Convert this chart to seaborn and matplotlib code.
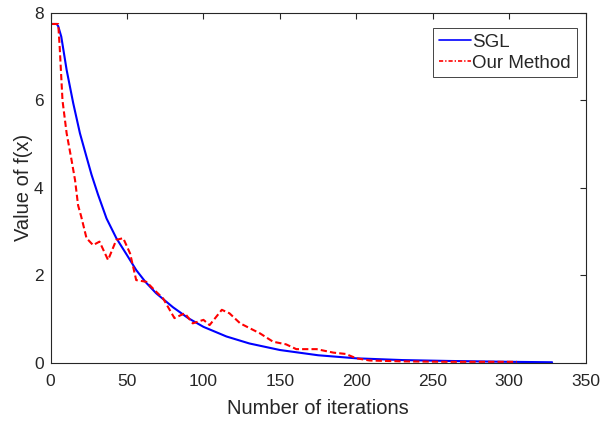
import numpy as np
import pandas as pd
import matplotlib
matplotlib.use('Agg')
import matplotlib.pyplot as plt
from matplotlib.lines import Line2D
import seaborn as sns

# values
sgl_iter = [1, 4, 5, 7, 10.5, 14.8, 19.2, 23.5, 26.8, 31, 36.6, 43, 50, 56, 62, 69,
            80, 90, 100, 115, 130, 150, 175, 200, 230, 260, 300, 328]
sgl_val = [7.75, 7.75, 7.7, 7.46, 6.7, 5.94, 5.25, 4.71, 4.3, 3.85, 3.3, 2.85, 2.46, 2.12,
           1.85, 1.59, 1.27, 1.02, 0.82, 0.6, 0.44, 0.29, 0.17, 0.1, 0.06, 0.04, 0.02, 0.01]

our_iter = [1, 5, 6, 7.8, 10.5, 13.7, 16, 18, 20, 23.5, 27.8, 32, 37.6, 43, 47.5, 52, 56,
            62.7, 68, 73.6, 81, 87.8, 93, 100, 104, 112, 117, 124, 137, 145.5, 154, 160.7,
            174, 185, 193, 200, 208.7, 230, 260, 305]
our_val = [7.75, 7.75, 7.2, 6.0, 5.25, 4.64, 4.18, 3.6, 3.35, 2.85, 2.69, 2.77, 2.35, 2.81,
           2.85, 2.5, 1.89, 1.85, 1.66, 1.47, 1.02, 1.13, 0.9, 0.98, 0.86, 1.21, 1.13, 0.9,
           0.67, 0.48, 0.42, 0.31, 0.31, 0.23, 0.2, 0.1, 0.05, 0.03, 0.02, 0.02]

sgl = pd.DataFrame({'iter': sgl_iter, 'f': sgl_val})
ours = pd.DataFrame({'iter': our_iter, 'f': our_val})

sns.set_style('white')
plt.rcParams['font.family'] = ['Liberation Sans', 'DejaVu Sans']

fig = plt.figure(figsize=(6.02, 4.21), dpi=100)
ax = fig.add_axes([0.084, 0.1385, 0.889, 0.8305])

sns.lineplot(data=sgl, x='iter', y='f', ax=ax, color='#0000ff', linewidth=1.5)
sns.lineplot(data=ours, x='iter', y='f', ax=ax, color='#ff0000', linewidth=1.5)
ax.lines[1].set_dashes([3, 1.5])

ax.set_xlim(0, 350)
ax.set_ylim(0, 8)
ax.set_xticks(np.arange(0, 351, 50))
ax.set_yticks(np.arange(0, 9, 2))
ax.tick_params(direction='in', top=True, right=True, length=4, width=0.8,
               labelsize=12.5, colors='0.15')
ax.tick_params(axis='x', pad=8)
ax.tick_params(axis='y', pad=5)
for s in ax.spines.values():
    s.set_color('0.15')
    s.set_linewidth(0.8)

ax.set_xlabel('Number of iterations', fontsize=14.5, color='0.15', labelpad=7)
ax.set_ylabel('Value of f(x)', fontsize=14.5, color='0.15', labelpad=0.5)

handles = [Line2D([], [], color='#0000ff', linewidth=1.2),
           Line2D([], [], color='#ff0000', linewidth=1.2, dashes=[2.5, 1.2, 0.8, 1.2])]
leg = ax.legend(handles, ['SGL', 'Our Method'], loc='upper right',
                bbox_to_anchor=(0.983, 0.957), fontsize=13.5,
                fancybox=False, framealpha=1, edgecolor='0.15', handlelength=1.7,
                handletextpad=0.1, borderpad=0.3, labelspacing=0.2,
                borderaxespad=0)
leg.get_frame().set_linewidth(0.6)

fig.savefig('out.png', dpi=100)
